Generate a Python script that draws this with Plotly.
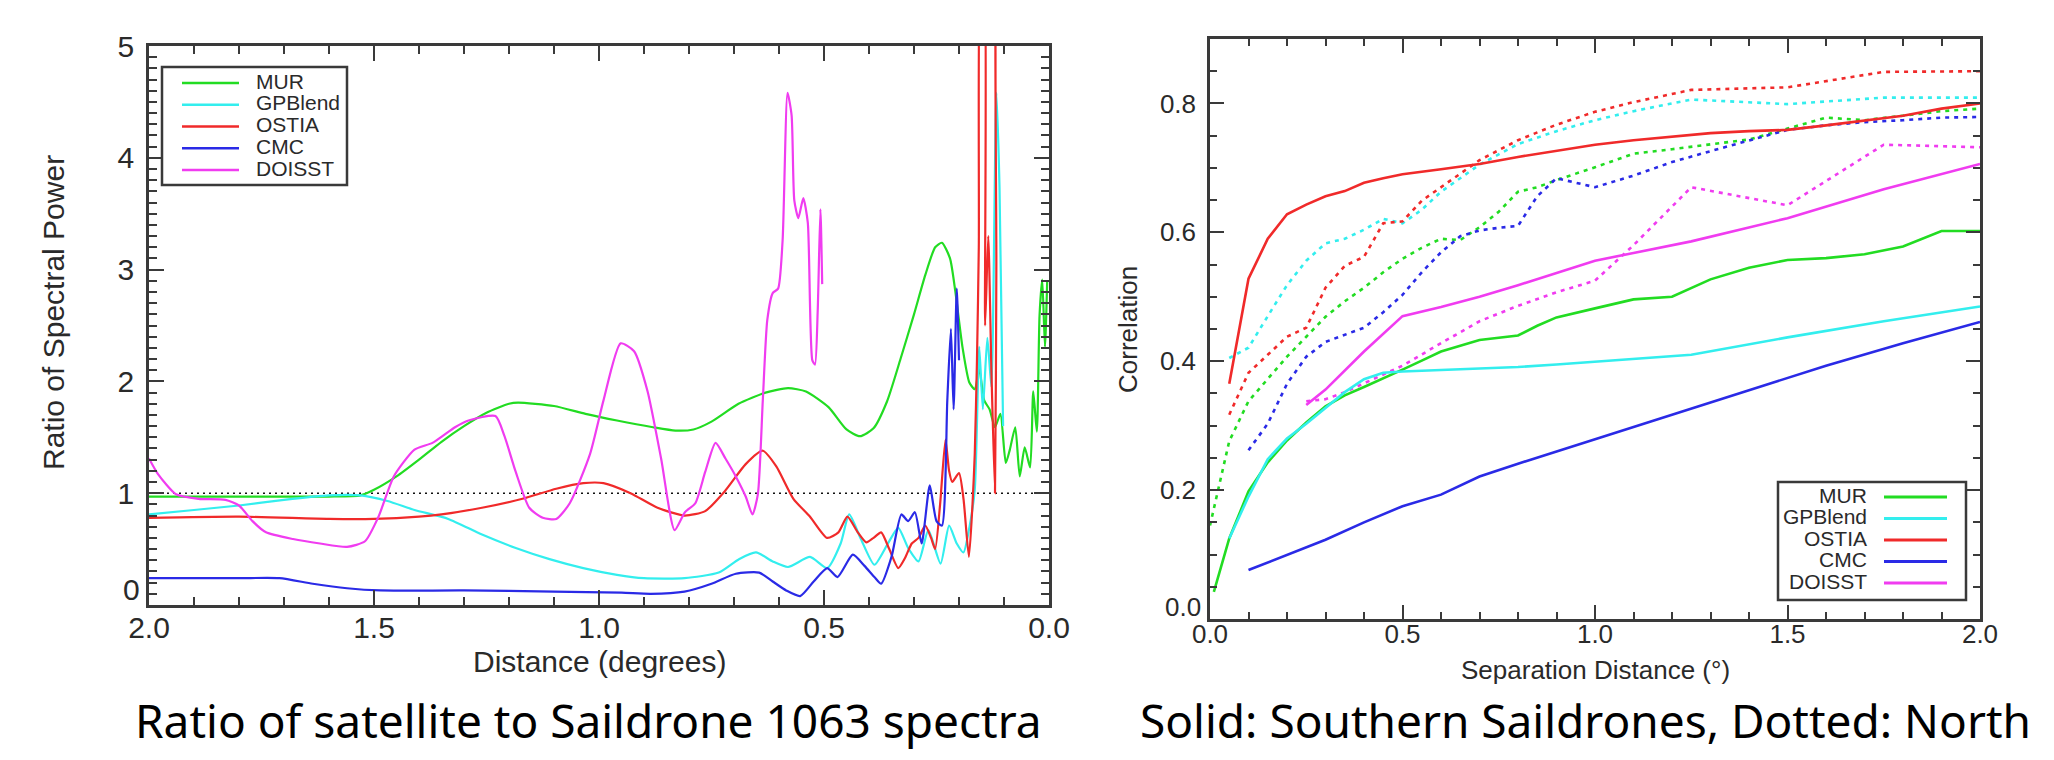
import plotly.graph_objects as go

W, H = 2054, 760

# ---------------- data ----------------
names = ["MUR", "GPBlend", "OSTIA", "CMC", "DOISST"]
colors = ["#22dc22", "#33eeee", "#f02a2a", "#2a2ae6", "#f03cf0"]

# Left panel: ratio of satellite to Saildrone spectra vs distance (degrees)
mur_l_d = [2.0, 1.9, 1.8, 1.7, 1.6, 1.53, 1.5, 1.45, 1.4, 1.35, 1.3, 1.25, 1.2, 1.18, 1.1,
           1.03, 0.96, 0.88, 0.83, 0.79, 0.75, 0.69, 0.63, 0.58, 0.54, 0.49, 0.45, 0.42, 0.39, 0.36,
           0.33, 0.3, 0.275, 0.253, 0.238, 0.22, 0.208, 0.192, 0.177, 0.165, 0.155, 0.144, 0.132,
           0.12, 0.108, 0.096, 0.087, 0.075, 0.065, 0.054, 0.042, 0.035, 0.027, 0.021, 0.015,
           0.009, 0.004]
mur_l_v = [0.97, 0.97, 0.97, 0.97, 0.97, 0.98, 1.03, 1.15, 1.30, 1.46, 1.60, 1.72, 1.80, 1.81, 1.78,
           1.71, 1.65, 1.59, 1.56, 1.57, 1.64, 1.80, 1.90, 1.94, 1.91, 1.77, 1.57, 1.51, 1.58, 1.82,
           2.2, 2.6, 2.95, 3.2, 3.24, 3.1, 2.8, 2.3, 1.99, 1.93, 2.11, 1.83, 1.75,
           1.59, 1.71, 1.27, 1.39, 1.59, 1.15, 1.41, 1.23, 1.91, 1.55, 2.59, 2.91,
           2.31, 2.9]

gpb_l_d = [2.0, 1.9, 1.8, 1.7, 1.6, 1.53, 1.47, 1.41, 1.335, 1.26, 1.185, 1.11, 1.035, 0.96, 0.9,
           0.81, 0.734, 0.689, 0.651, 0.614, 0.58, 0.531, 0.493, 0.463, 0.444, 0.418, 0.388, 0.358,
           0.335, 0.313, 0.29, 0.268, 0.241, 0.222, 0.205, 0.19, 0.178, 0.165, 0.155, 0.147, 0.137,
           0.128, 0.117, 0.11, 0.102]
gpb_l_v = [0.81, 0.85, 0.89, 0.94, 0.98, 0.98, 0.93, 0.85, 0.77, 0.63, 0.51, 0.41, 0.33, 0.27, 0.24,
           0.24, 0.29, 0.41, 0.47, 0.39, 0.34, 0.43, 0.33, 0.55, 0.81, 0.59, 0.36, 0.55,
           0.69, 0.51, 0.39, 0.67, 0.37, 0.71, 0.55, 0.47, 0.67, 1.03, 2.31, 1.75, 2.39,
           1.95, 4.58, 3.74, 1.6]

ost_l_d = [2.0, 1.8, 1.6, 1.5, 1.4, 1.35, 1.26, 1.17, 1.095, 1.035, 0.99, 0.93, 0.87, 0.81, 0.764,
           0.72, 0.674, 0.636, 0.606, 0.568, 0.531, 0.493, 0.468, 0.448, 0.425, 0.406, 0.39, 0.373,
           0.355, 0.335, 0.32, 0.305, 0.29, 0.275, 0.262, 0.253, 0.242, 0.23, 0.222, 0.215, 0.2,
           0.19, 0.178, 0.17, 0.165, 0.16, 0.156, 0.15, 0.146, 0.142, 0.135, 0.128, 0.12, 0.117,
           0.113, 0.108, 0.104]
ost_l_v = [0.78, 0.79, 0.77, 0.77, 0.79, 0.81, 0.87, 0.95, 1.04, 1.09, 1.09, 1.0, 0.87, 0.80, 0.84,
           1.02, 1.26, 1.38, 1.24, 0.95, 0.79, 0.6, 0.65, 0.79, 0.65, 0.56, 0.6, 0.65,
           0.5, 0.33, 0.42, 0.55, 0.6, 0.71, 0.6, 0.5, 0.9, 1.48, 1.2, 1.1, 1.18,
           0.95, 0.43, 0.9, 1.35, 2.2, 3.2, 6.0, 6.0, 2.5, 3.3, 2.1, 1.0, 3.0,
           6.0, 6.0, 6.0]

cmc_l_d = [2.0, 1.8, 1.71, 1.636, 1.56, 1.486, 1.3, 1.1, 0.95, 0.885, 0.81, 0.75, 0.696, 0.644,
           0.614, 0.584, 0.553, 0.523, 0.493, 0.47, 0.436, 0.41, 0.388, 0.373, 0.35, 0.328, 0.313,
           0.298, 0.283, 0.265, 0.25, 0.238, 0.226, 0.218, 0.212, 0.205, 0.2]
cmc_l_v = [0.24, 0.24, 0.24, 0.19, 0.15, 0.13, 0.13, 0.12, 0.11, 0.10, 0.12, 0.19, 0.28, 0.29,
           0.21, 0.13, 0.08, 0.21, 0.33, 0.25, 0.45, 0.35, 0.25, 0.19, 0.43, 0.81, 0.75,
           0.83, 0.55, 1.07, 0.75, 0.71, 1.83, 2.47, 1.75, 2.83, 2.19]

doi_l_d = [2.0, 1.98, 1.94, 1.89, 1.83, 1.80, 1.77, 1.74, 1.68, 1.62, 1.56, 1.52, 1.49, 1.456, 1.41,
           1.37, 1.32, 1.29, 1.23, 1.21, 1.185, 1.155, 1.125, 1.095, 1.065, 1.02, 0.99, 0.952, 0.922,
           0.892, 0.862, 0.832, 0.809, 0.786, 0.764, 0.741, 0.719, 0.696, 0.674, 0.659, 0.647, 0.636,
           0.626, 0.614, 0.602, 0.592, 0.581, 0.572, 0.566, 0.557, 0.546, 0.536, 0.526, 0.52, 0.514,
           0.508, 0.504]
doi_l_v = [1.31, 1.17, 0.99, 0.95, 0.94, 0.89, 0.75, 0.65, 0.59, 0.55, 0.52, 0.57, 0.79, 1.15, 1.39,
           1.45, 1.59, 1.65, 1.69, 1.51, 1.19, 0.87, 0.78, 0.77, 0.91, 1.35, 1.83, 2.34, 2.27,
           1.91, 1.31, 0.67, 0.83, 0.91, 1.19, 1.45, 1.31, 1.15, 0.97, 0.81, 0.99, 1.83,
           2.55, 2.79, 2.83, 3.26, 4.58, 4.38, 3.62, 3.46, 3.64, 3.42, 2.19, 2.15, 2.63,
           3.54, 2.87]

ref_d = [2.0, 0.0]
ref_v = [1.0, 1.0]

# Right panel: correlation vs separation distance, solid = southern, dotted = northern
mur_s_d = [0.01, 0.05, 0.1, 0.15, 0.2, 0.25, 0.3, 0.35, 0.4, 0.45, 0.5, 0.55, 0.6, 0.7, 0.8, 0.85,
           0.9, 1.0, 1.1, 1.2, 1.3, 1.4, 1.5, 1.6, 1.7, 1.8, 1.9, 2.0]
mur_s_v = [0.042, 0.125, 0.198, 0.243, 0.277, 0.305, 0.33, 0.347, 0.36, 0.373, 0.387, 0.401, 0.415,
           0.433, 0.44, 0.455, 0.468, 0.482, 0.496, 0.5, 0.527, 0.545, 0.557, 0.56, 0.566, 0.578,
           0.602, 0.602]
gpb_s_d = [0.05, 0.1, 0.15, 0.2, 0.25, 0.3, 0.35, 0.4, 0.45, 0.5, 0.6, 0.7, 0.8, 0.9, 1.0, 1.1,
           1.25, 1.5, 1.75, 2.0]
gpb_s_v = [0.125, 0.19, 0.248, 0.28, 0.303, 0.327, 0.352, 0.372, 0.382, 0.384, 0.386, 0.388, 0.391,
           0.395, 0.399, 0.403, 0.41, 0.437, 0.462, 0.485]
ost_s_d = [0.05, 0.1, 0.15, 0.2, 0.25, 0.3, 0.35, 0.4, 0.45, 0.5, 0.6, 0.7, 0.8, 0.9, 1.0, 1.1,
           1.2, 1.3, 1.4, 1.5, 1.6, 1.7, 1.8, 1.9, 2.0]
ost_s_v = [0.365, 0.528, 0.59, 0.628, 0.643, 0.656, 0.664, 0.677, 0.684, 0.69, 0.698, 0.706, 0.717,
           0.726, 0.736, 0.743, 0.749, 0.754, 0.757, 0.759, 0.766, 0.773, 0.781, 0.792, 0.80]
cmc_s_d = [0.1, 0.2, 0.3, 0.4, 0.5, 0.6, 0.7, 0.8, 1.0, 1.2, 1.4, 1.6, 1.8, 2.0]
cmc_s_v = [0.076, 0.1, 0.123, 0.15, 0.175, 0.193, 0.221, 0.241, 0.279, 0.317, 0.355, 0.393, 0.428,
           0.461]
doi_s_d = [0.25, 0.3, 0.4, 0.5, 0.6, 0.7, 0.8, 0.9, 1.0, 1.1, 1.25, 1.5, 1.75, 2.0]
doi_s_v = [0.332, 0.356, 0.415, 0.47, 0.484, 0.5, 0.518, 0.537, 0.556, 0.568, 0.586, 0.622, 0.667,
           0.706]

mur_n_d = [0.0, 0.05, 0.1, 0.15, 0.2, 0.25, 0.3, 0.35, 0.4, 0.45, 0.5, 0.55, 0.6, 0.65, 0.7, 0.75,
           0.8, 0.85, 0.9, 1.0, 1.1, 1.2, 1.3, 1.4, 1.5, 1.6, 1.7, 1.8, 1.9, 2.0]
mur_n_v = [0.145, 0.276, 0.338, 0.372, 0.407, 0.438, 0.469, 0.493, 0.514, 0.538, 0.559, 0.576, 0.59,
           0.588, 0.608, 0.632, 0.663, 0.67, 0.681, 0.701, 0.722, 0.729, 0.737, 0.744, 0.761, 0.778,
           0.774, 0.781, 0.788, 0.792]
gpb_n_d = [0.05, 0.1, 0.15, 0.2, 0.25, 0.3, 0.35, 0.4, 0.45, 0.5, 0.55, 0.6, 0.7, 0.8, 0.9, 1.0,
           1.1, 1.25, 1.5, 1.75, 2.0]
gpb_n_v = [0.405, 0.421, 0.47, 0.518, 0.556, 0.583, 0.59, 0.604, 0.621, 0.614, 0.635, 0.663, 0.705,
           0.737, 0.757, 0.774, 0.788, 0.806, 0.799, 0.809, 0.809]
ost_n_d = [0.05, 0.1, 0.15, 0.2, 0.25, 0.3, 0.35, 0.4, 0.45, 0.5, 0.55, 0.6, 0.7, 0.8, 0.9, 1.0,
           1.1, 1.25, 1.5, 1.75, 2.0]
ost_n_v = [0.317, 0.382, 0.41, 0.438, 0.452, 0.514, 0.548, 0.562, 0.614, 0.617, 0.649, 0.67, 0.712,
           0.743, 0.767, 0.787, 0.802, 0.821, 0.825, 0.849, 0.85]
cmc_n_d = [0.1, 0.15, 0.2, 0.25, 0.3, 0.35, 0.4, 0.45, 0.5, 0.55, 0.6, 0.65, 0.7, 0.75, 0.8, 0.85,
           0.9, 0.95, 1.0, 1.1, 1.2, 1.3, 1.4, 1.5, 1.6, 1.7, 1.8, 1.9, 2.0]
cmc_n_v = [0.262, 0.303, 0.365, 0.407, 0.43, 0.441, 0.452, 0.476, 0.503, 0.538, 0.569, 0.594, 0.603,
           0.607, 0.61, 0.656, 0.684, 0.677, 0.67, 0.688, 0.709, 0.726, 0.743, 0.759, 0.766, 0.771,
           0.774, 0.778, 0.779]
doi_n_d = [0.25, 0.3, 0.35, 0.4, 0.5, 0.6, 0.7, 0.8, 0.9, 1.0, 1.1, 1.25, 1.5, 1.75, 2.0]
doi_n_v = [0.338, 0.341, 0.352, 0.366, 0.393, 0.428, 0.462, 0.486, 0.507, 0.525, 0.58, 0.67, 0.642,
           0.736, 0.732]

left_yticks = [0, 1, 2, 3, 4, 5]
left_ytext = ["0", "1", "2", "3", "4", "5"]
right_yticks = [0.0, 0.2, 0.4, 0.6, 0.8]
right_ytext = ["0.0", "0.2", "0.4", "0.6", "0.8"]

left_titles = ["Distance (degrees)", "Ratio of Spectral Power"]
right_titles = ["Separation Distance (\u00b0)", "Correlation"]
captions = ["Ratio of satellite to Saildrone 1063 spectra", "Solid: Southern Saildrones, Dotted: North"]

# ---------------- figure ----------------
def px(x):
    return x / W

def py(y):
    return 1 - y / H

left_series = [(mur_l_d, mur_l_v), (gpb_l_d, gpb_l_v), (ost_l_d, ost_l_v), (cmc_l_d, cmc_l_v),
               (doi_l_d, doi_l_v)]
south_series = [(mur_s_d, mur_s_v), (gpb_s_d, gpb_s_v), (ost_s_d, ost_s_v), (cmc_s_d, cmc_s_v),
                (doi_s_d, doi_s_v)]
north_series = [(mur_n_d, mur_n_v), (gpb_n_d, gpb_n_v), (ost_n_d, ost_n_v), (cmc_n_d, cmc_n_v),
                (doi_n_d, doi_n_v)]

fig = go.Figure()

fig.add_trace(go.Scatter(x=ref_d, y=ref_v, mode="lines", xaxis="x", yaxis="y",
                         line=dict(color="#111111", width=1.6, dash="2px,4px"), showlegend=False,
                         hoverinfo="skip"))
for (d, v), n, c in zip(left_series, names, colors):
    fig.add_trace(go.Scatter(x=d, y=v, mode="lines", name=n, xaxis="x", yaxis="y",
                             line=dict(color=c, width=2.2, shape="spline", smoothing=0.6),
                             showlegend=False))
for (d, v), n, c in zip(north_series, names, colors):
    fig.add_trace(go.Scatter(x=d, y=v, mode="lines", name=n + " (North)", xaxis="x2", yaxis="y2",
                             line=dict(color=c, width=2.6, dash="4px,5px"), showlegend=False))
for (d, v), n, c in zip(south_series, names, colors):
    fig.add_trace(go.Scatter(x=d, y=v, mode="lines", name=n + " (South)", xaxis="x2", yaxis="y2",
                             line=dict(color=c, width=2.6), showlegend=False))

axc = "#3a3a3a"
tickc = "#2a2a2a"

def axis_style(size):
    return dict(showline=True, linecolor=axc, linewidth=2.5, mirror="allticks", ticks="inside",
                tickcolor=axc, tickwidth=2, showgrid=False, zeroline=False, automargin=False,
                tickfont=dict(family="Liberation Sans, Arial, sans-serif", size=size, color=tickc))

# the lowest y label is drawn separately (raised above the corner, as in the original)
fig.update_layout(
    width=W, height=H, margin=dict(l=0, r=0, t=0, b=0, pad=0, autoexpand=False),
    paper_bgcolor="white", plot_bgcolor="white", showlegend=False,
    xaxis=dict(domain=[px(141), px(1041)], range=[2.0, 0.0], tickvals=[2.0, 1.5, 1.0, 0.5, 0.0],
               tickformat=".1f", ticklen=15, ticklabelstandoff=-6,
               minor=dict(dtick=0.1, tick0=0, ticks="inside", ticklen=8, tickcolor=axc, tickwidth=2),
               anchor="y", **axis_style(30)),
    yaxis=dict(domain=[py(597), py(38)], range=[0, 5], tickvals=left_yticks,
               ticktext=[""] + left_ytext[1:], ticklen=15, ticklabelstandoff=6,
               minor=dict(dtick=0.1, tick0=0, ticks="inside", ticklen=8, tickcolor=axc, tickwidth=2),
               anchor="x", **axis_style(30)),
    xaxis2=dict(domain=[px(1202), px(1972)], range=[0.0, 2.0], dtick=0.5, tick0=0, tickformat=".1f",
                ticklen=14, ticklabelstandoff=-10,
                minor=dict(dtick=0.1, tick0=0, ticks="inside", ticklen=7, tickcolor=axc, tickwidth=2),
                anchor="y2", **axis_style(26)),
    yaxis2=dict(domain=[py(611), py(31)], range=[0.0, 0.9], tickvals=right_yticks,
                ticktext=[""] + right_ytext[1:], ticklen=14, ticklabelstandoff=6,
                minor=dict(dtick=0.05, tick0=0, ticks="inside", ticklen=7, tickcolor=axc, tickwidth=2),
                anchor="x2", **axis_style(26)),
)

font_main = "Liberation Sans, Arial, sans-serif"
ann = []

def text_at(text, x, y, size, family=font_main, color=tickc, angle=0, xanchor="center"):
    ann.append(dict(text=text, x=px(x), y=py(y), xref="paper", yref="paper", showarrow=False,
                    xanchor=xanchor, yanchor="middle", textangle=angle,
                    font=dict(family=family, size=size, color=color)))

# raised zero labels
text_at(left_ytext[0], 134, 581, 30, xanchor="right")
text_at(right_ytext[0], 1195, 599, 26, xanchor="right")
# axis titles
text_at(left_titles[0], 591, 653, 30)
text_at(left_titles[1], 45, 305, 30, angle=-90)
text_at(right_titles[0], 1587, 662, 26)
text_at(right_titles[1], 1120, 322, 26, angle=-90)
# captions
text_at(captions[0], 580, 712, 46, family="Noto Sans, sans-serif", color="black")
text_at(captions[1], 1577, 712, 46, family="Noto Sans, sans-serif", color="black")

shapes = []
# left legend
shapes.append(dict(type="rect", xref="paper", yref="paper", x0=px(154), x1=px(339),
                   y0=py(177), y1=py(59), line=dict(color=axc, width=2.5), fillcolor="white",
                   layer="above"))
for i, (n, c) in enumerate(zip(names, colors)):
    yy = 75 + i * 21.75
    shapes.append(dict(type="line", xref="paper", yref="paper", x0=px(174), x1=px(231),
                       y0=py(yy), y1=py(yy), line=dict(color=c, width=2.5), layer="above"))
    text_at(n, 246, yy - 2, 21, xanchor="left")
# right legend
shapes.append(dict(type="rect", xref="paper", yref="paper", x0=px(1770), x1=px(1958),
                   y0=py(592), y1=py(474), line=dict(color=axc, width=2.5), fillcolor="white",
                   layer="above"))
for i, (n, c) in enumerate(zip(names, colors)):
    yy = 489 + i * 21.5
    shapes.append(dict(type="line", xref="paper", yref="paper", x0=px(1876), x1=px(1939),
                       y0=py(yy), y1=py(yy), line=dict(color=c, width=3), layer="above"))
    text_at(n, 1861, yy - 2, 21, xanchor="right")

fig.update_layout(annotations=ann, shapes=shapes)
fig.write_html("out.html")
